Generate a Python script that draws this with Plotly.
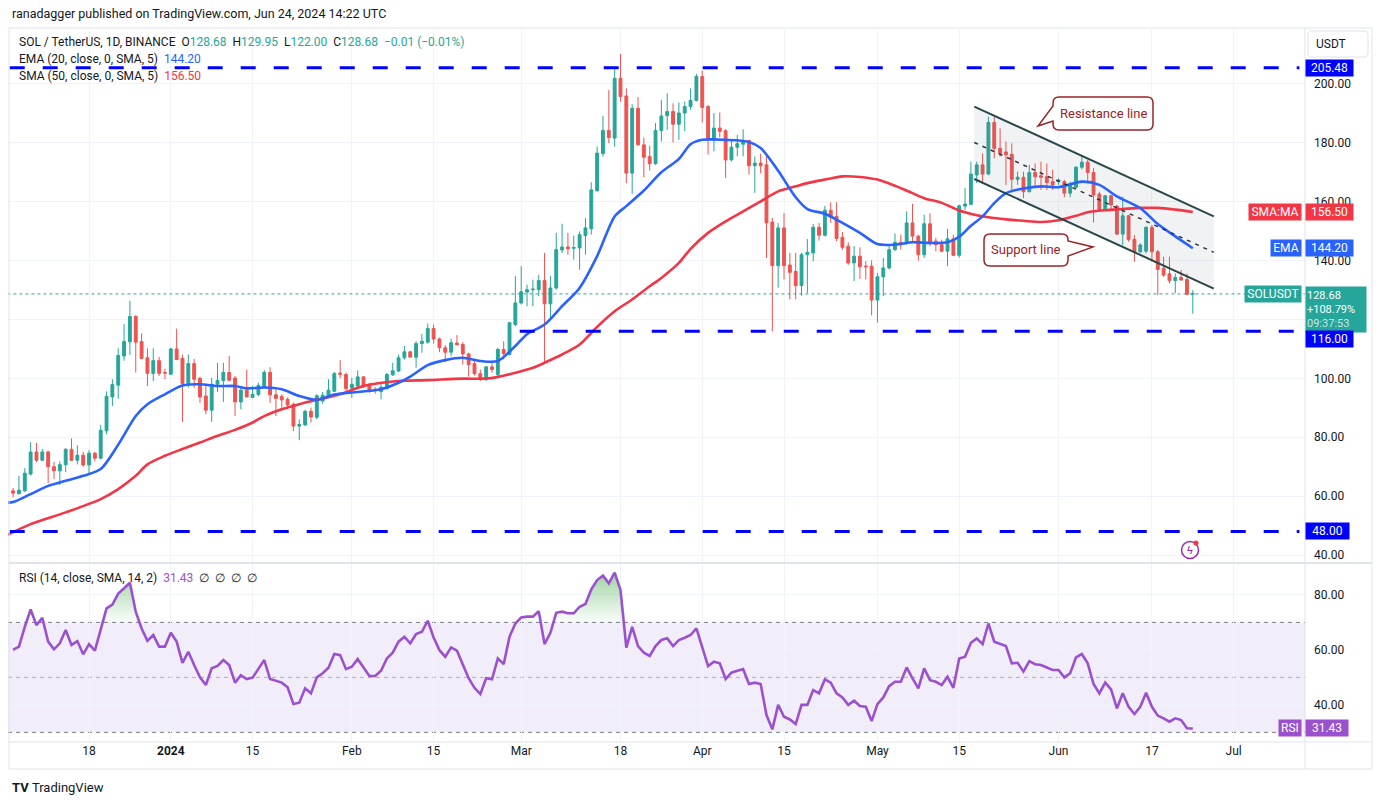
import pandas as pd
import plotly.graph_objects as go
from plotly.subplots import make_subplots

# plot area in page pixels (used for paper-coordinate decorations)
L_PX, R_PX, T_PX, B_PX = 8, 1305, 30, 742

first_day = "2023-12-05"

opens = [
    61.8, 60.9, 61.8, 67.5, 75.0, 72.2, 75.0, 70.0, 68.6, 70.7,
    75.9, 72.2, 73.9, 70.6, 74.6, 72.9, 82.2, 93.7, 97.7, 107.6,
    112.4, 121.0, 112.5, 107.0, 101.7, 106.0, 102.0, 101.4, 110.0, 106.8,
    98.3, 105.0, 100.0, 94.0, 89.2, 98.0, 99.3, 102.0, 100.1, 92.0,
    96.0, 93.5, 94.5, 97.0, 102.0, 94.4, 93.8, 92.9, 91.2, 83.8,
    84.2, 88.8, 86.8, 92.3, 94.0, 95.6, 101.8, 101.3, 96.7, 97.4,
    100.5, 97.6, 96.3, 95.5, 96.5, 101.2, 102.5, 107.0, 109.0, 107.2,
    111.8, 112.3, 116.9, 113.4, 110.4, 108.9, 112.0, 111.5, 108.3, 105.0,
    101.6, 99.9, 103.9, 101.3, 109.8, 108.1, 118.3, 125.6, 129.3, 130.1,
    130.1, 133.2, 125.3, 130.7, 143.6, 144.6, 144.2, 144.3, 148.5, 150.8,
    163.8, 176.3, 184.2, 181.6, 201.9, 195.9, 169.7, 191.7, 179.3, 175.3,
    172.9, 184.2, 189.2, 190.6, 186.3, 190.1, 192.3, 194.4, 202.5, 192.3,
    181.4, 185.0, 184.1, 174.2, 178.5, 179.5, 180.8, 172.2, 173.1, 172.5,
    153.1, 138.3, 151.1, 138.5, 136.3, 131.5, 142.0, 142.6, 151.3, 148.6,
    157.1, 155.0, 147.9, 144.9, 139.2, 141.5, 138.1, 138.1, 126.6, 134.5,
    137.5, 143.7, 146.2, 145.9, 152.8, 148.3, 142.0, 152.5, 146.6, 145.4,
    143.2, 147.4, 141.8, 158.5, 159.1, 169.1, 172.5, 169.4, 186.9, 178.1,
    176.9, 176.1, 167.6, 168.3, 163.4, 169.9, 168.8, 168.5, 166.8, 166.8,
    166.8, 162.9, 164.9, 171.7, 173.4, 169.9, 162.6, 157.4, 162.0, 158.5,
    149.0, 155.2, 147.2, 143.0, 143.2, 151.3, 143.0, 137.4, 135.5, 133.2,
    134.3, 133.6, 128.68,
]
highs = [
    62.7, 66.9, 69.5, 78.3, 78.1, 76.0, 75.5, 71.6, 71.8, 76.3,
    79.6, 77.3, 75.0, 75.6, 75.0, 84.2, 95.6, 99.7, 110.2, 118.4,
    126.4, 121.5, 115.3, 110.2, 110.2, 107.3, 103.3, 110.4, 116.9, 108.0,
    108.1, 106.6, 100.5, 97.4, 100.2, 105.3, 105.3, 107.6, 100.8, 97.4,
    103.0, 97.4, 98.5, 102.8, 103.8, 96.3, 94.6, 93.5, 91.8, 86.1,
    89.3, 90.1, 94.6, 95.4, 99.7, 102.2, 106.2, 102.0, 100.2, 102.7,
    100.8, 98.5, 97.0, 98.0, 101.9, 105.3, 108.1, 111.0, 109.3, 112.6,
    115.1, 118.6, 118.3, 113.8, 111.3, 113.5, 114.7, 112.3, 108.7, 106.4,
    103.0, 104.2, 105.9, 110.4, 112.6, 119.1, 134.7, 138.1, 131.8, 133.5,
    135.2, 142.6, 134.7, 149.4, 152.5, 149.4, 148.5, 149.9, 154.4, 166.6,
    178.7, 189.1, 197.9, 205.3, 210.2, 198.5, 193.1, 195.5, 181.8, 179.0,
    186.7, 194.6, 196.8, 193.4, 193.7, 194.0, 198.5, 203.4, 204.5, 192.8,
    190.1, 190.3, 184.6, 181.0, 182.7, 184.6, 181.0, 175.4, 176.3, 175.9,
    154.5, 152.8, 156.1, 142.6, 142.6, 142.6, 147.3, 152.4, 152.8, 158.6,
    159.8, 159.8, 149.7, 146.2, 144.9, 144.5, 139.8, 140.1, 135.8, 140.9,
    144.9, 149.2, 148.8, 156.7, 159.3, 148.8, 155.6, 156.0, 147.7, 147.1,
    150.8, 148.8, 159.0, 164.6, 173.6, 173.6, 176.4, 188.9, 188.9, 184.9,
    180.4, 179.8, 170.2, 170.2, 172.5, 173.0, 173.6, 173.0, 170.8, 167.9,
    167.4, 166.8, 172.1, 175.3, 174.2, 171.4, 163.4, 162.3, 162.3, 158.9,
    161.7, 155.5, 148.7, 145.9, 151.6, 152.1, 143.6, 141.3, 141.3, 135.6,
    136.8, 135.6, 129.95,
]
lows = [
    59.6, 60.5, 61.5, 67.0, 71.5, 72.0, 64.4, 65.8, 63.8, 68.2,
    71.9, 70.8, 70.0, 67.3, 71.9, 72.5, 81.0, 90.6, 93.1, 106.0,
    108.0, 102.0, 106.5, 97.4, 99.1, 100.8, 99.7, 101.2, 106.2, 85.2,
    96.8, 96.8, 91.7, 87.8, 85.2, 95.4, 92.0, 99.0, 87.2, 89.5,
    93.5, 93.4, 94.0, 97.0, 91.7, 87.2, 90.0, 89.5, 82.1, 79.0,
    83.8, 85.0, 86.1, 91.4, 93.8, 95.3, 100.0, 95.7, 93.4, 96.8,
    96.8, 95.1, 94.8, 92.9, 96.3, 100.8, 102.1, 106.4, 107.2, 103.6,
    108.7, 111.8, 111.8, 108.9, 105.5, 107.5, 111.2, 104.7, 100.6, 101.0,
    99.1, 99.1, 101.9, 100.8, 106.4, 107.8, 117.7, 125.1, 124.5, 124.5,
    127.9, 105.3, 120.0, 130.1, 142.6, 142.0, 140.3, 136.9, 142.0, 148.8,
    163.2, 175.3, 179.9, 178.7, 194.0, 166.3, 162.7, 179.0, 168.3, 170.6,
    172.5, 180.5, 184.4, 180.1, 181.0, 183.9, 191.2, 194.0, 186.9, 176.0,
    177.1, 181.9, 168.0, 173.7, 175.4, 175.4, 169.2, 163.0, 169.7, 140.9,
    116.0, 130.8, 133.6, 126.8, 126.8, 128.1, 129.0, 139.8, 146.8, 148.2,
    152.8, 146.6, 143.7, 138.6, 133.0, 133.8, 133.6, 121.4, 118.9, 127.9,
    137.0, 143.2, 143.7, 145.4, 146.6, 140.0, 140.9, 144.9, 143.2, 142.8,
    138.1, 141.5, 141.0, 157.2, 158.9, 166.3, 166.3, 169.0, 174.7, 175.3,
    165.7, 163.1, 165.7, 161.2, 163.1, 165.1, 164.0, 164.0, 164.0, 165.7,
    161.5, 161.5, 164.6, 171.0, 166.8, 152.9, 157.2, 157.2, 157.2, 148.7,
    145.3, 146.4, 139.6, 142.5, 142.5, 139.6, 128.3, 134.5, 132.2, 128.9,
    133.2, 128.1, 122.0,
]
closes = [
    61.0, 62.0, 67.8, 75.0, 72.2, 75.0, 70.0, 68.6, 70.7, 75.9,
    72.2, 73.9, 70.6, 74.6, 72.9, 82.4, 93.9, 97.9, 107.8, 112.5,
    121.0, 112.3, 106.8, 101.7, 106.0, 101.7, 101.8, 110.0, 106.4, 98.3,
    105.0, 99.7, 93.7, 89.2, 98.0, 99.3, 102.0, 99.4, 92.0, 96.0,
    93.7, 94.6, 97.6, 102.0, 94.4, 93.2, 92.7, 91.0, 83.8, 84.3,
    88.8, 86.9, 94.1, 94.3, 96.0, 101.6, 101.4, 96.5, 98.0, 100.5,
    97.4, 95.6, 96.0, 97.0, 101.3, 102.6, 107.0, 109.0, 107.2, 111.8,
    112.6, 116.9, 113.4, 110.4, 108.9, 112.1, 111.4, 108.3, 104.7, 101.6,
    99.9, 103.9, 103.0, 109.8, 108.4, 118.9, 125.6, 129.4, 130.1, 130.3,
    133.2, 125.3, 130.7, 143.7, 144.6, 144.0, 144.4, 148.8, 151.1, 164.0,
    176.5, 184.2, 181.8, 201.9, 195.7, 169.7, 191.7, 179.3, 175.1, 172.9,
    184.2, 189.1, 190.6, 186.3, 190.1, 192.3, 194.4, 202.5, 192.0, 181.4,
    185.0, 183.9, 174.2, 178.5, 179.7, 180.8, 172.2, 173.1, 172.2, 152.8,
    138.3, 151.1, 138.3, 136.0, 131.5, 142.0, 142.8, 151.3, 148.6, 157.1,
    154.7, 147.5, 144.5, 139.2, 141.5, 137.9, 137.9, 126.6, 134.5, 137.5,
    143.7, 146.2, 145.4, 152.8, 148.3, 142.0, 152.5, 146.0, 145.4, 143.2,
    147.4, 141.8, 158.6, 159.2, 169.4, 172.5, 169.4, 186.9, 178.1, 176.4,
    175.9, 167.6, 168.3, 163.4, 169.9, 168.5, 168.3, 166.5, 165.7, 167.4,
    162.9, 165.7, 171.7, 173.4, 169.9, 162.3, 157.4, 162.0, 158.9, 149.0,
    155.2, 147.2, 143.0, 145.3, 151.3, 143.0, 137.0, 135.1, 133.2, 134.3,
    133.4, 128.6, 128.68,
]

rsi_vals = [
    60.0, 61.2, 68.4, 74.7, 69.0, 71.7, 63.0, 60.2, 62.4, 67.2,
    61.8, 63.2, 58.4, 62.1, 59.7, 67.2, 75.1, 76.5, 80.5, 82.4,
    84.4, 73.9, 67.8, 63.3, 65.4, 61.2, 61.2, 66.2, 63.0, 55.3,
    59.3, 54.5, 50.0, 47.2, 53.3, 54.2, 56.3, 54.5, 48.1, 50.8,
    49.4, 49.9, 53.3, 56.3, 49.4, 48.8, 48.1, 46.4, 40.3, 40.8,
    46.0, 44.2, 50.0, 51.5, 53.5, 58.5, 58.1, 53.0, 53.9, 56.7,
    53.6, 50.5, 50.5, 52.4, 56.9, 59.0, 63.0, 64.8, 62.4, 65.8,
    66.6, 70.6, 64.5, 59.9, 57.5, 60.9, 59.7, 54.5, 49.7, 46.2,
    43.9, 49.7, 49.3, 56.9, 54.8, 64.8, 69.6, 71.8, 72.1, 72.1,
    74.1, 62.1, 66.2, 73.5, 73.9, 73.3, 73.3, 75.7, 76.7, 82.0,
    85.4, 87.0, 84.2, 88.1, 81.8, 60.8, 68.4, 61.4, 59.0, 57.8,
    61.4, 63.6, 64.2, 61.4, 63.6, 64.4, 65.4, 67.8, 61.2, 54.1,
    55.7, 55.1, 49.4, 51.7, 52.4, 53.0, 47.6, 48.1, 47.6, 36.3,
    31.1, 40.0, 35.7, 34.7, 33.0, 40.0, 40.0, 45.4, 44.2, 49.3,
    48.1, 44.2, 42.7, 40.0, 41.5, 39.6, 39.3, 34.1, 40.3, 42.7,
    46.8, 48.4, 48.4, 53.6, 49.6, 46.0, 53.3, 49.0, 48.4, 47.2,
    50.2, 46.2, 56.9, 57.5, 62.6, 64.2, 62.1, 69.6, 63.0, 62.1,
    61.4, 55.1, 55.3, 52.1, 55.9, 54.8, 54.5, 53.6, 52.7, 52.7,
    50.0, 51.5, 57.3, 58.5, 55.1, 47.6, 44.2, 48.1, 45.6, 38.7,
    44.2, 39.3, 36.7, 39.3, 44.4, 39.3, 36.1, 35.1, 33.9, 35.1,
    34.5, 31.5, 31.43,
]

# moving averages (day offset from first candle, value)
ema_day = [-1, 0, 3, 6, 9, 12, 15, 18, 21, 23, 26, 29, 32, 35, 38, 40, 43, 46, 49, 52,
           55, 58, 63, 66, 68, 71, 74, 77, 80, 83, 86, 88, 91, 94, 97, 100, 103, 105, 108, 111,
           114, 116, 118, 122, 126, 128, 131, 134, 136, 139, 142, 145, 148, 151, 154, 157, 160,
           162, 164, 166, 168, 170, 173, 176, 179, 183, 186, 189, 193, 196, 199, 202]
ema_val = [57.8, 58.0, 60.7, 63.5, 65.2, 66.9, 69.2, 77.5, 87.2, 91.2, 94.6, 97.6, 98.0, 97.4,
           97.4, 96.6, 96.9, 96.3, 94.0, 92.7, 94.5, 95.2, 96.3, 98.5, 100.6, 104.5, 106.2, 107.0,
           105.9, 105.9, 111.0, 115.0, 118.3, 124.5, 130.7, 141.5, 155.0, 158.5, 163.8, 170.0,
           174.5, 179.5, 181.0, 181.0, 180.3, 178.2, 170.5, 161.5, 157.5, 155.9, 152.8, 149.4,
           145.6, 145.4, 146.2, 146.0, 146.2, 148.1, 151.8, 155.0, 159.5, 162.9, 164.5, 165.2,
           164.9, 166.8, 165.7, 161.8, 157.8, 152.4, 148.2, 144.2]
sma_day = [-1, 3, 9, 15, 18, 21, 23, 26, 29, 32, 35, 38, 41, 43, 46, 49, 52, 56, 60, 66,
           71, 77, 81, 83, 86, 89, 91, 94, 97, 100, 103, 106, 109, 111, 114, 116, 119, 122, 125,
           128, 131, 134, 136, 139, 142, 145, 148, 151, 154, 156, 159, 162, 165, 167, 170, 173,
           176, 179, 182, 184, 187, 190, 193, 196, 199, 202]
sma_val = [46.8, 50.5, 54.5, 59.0, 62.4, 66.9, 70.8, 73.7, 76.0, 78.2, 80.5, 82.5, 85.0, 87.2,
           89.5, 91.2, 92.7, 94.6, 97.4, 99.1, 99.4, 99.9, 99.9, 100.5, 101.9, 103.6, 105.3,
           108.1, 111.5, 117.5, 122.8, 126.8, 131.3, 134.1, 139.2, 144.0, 149.4, 153.3, 156.7,
           160.1, 163.5, 165.2, 166.3, 167.5, 168.6, 168.4, 167.5, 165.4, 162.9, 161.2, 159.6,
           157.0, 155.4, 154.7, 154.0, 153.5, 153.1, 153.7, 155.2, 156.4, 157.1, 157.5, 157.9,
           157.9, 157.3, 156.5]

tick_dates = ["2023-12-18", "2024-01-01", "2024-01-15", "2024-02-01", "2024-02-15",
              "2024-03-01", "2024-03-18", "2024-04-01", "2024-04-15", "2024-05-01",
              "2024-05-15", "2024-06-01", "2024-06-17", "2024-07-01"]
tick_text = ["18", "<b>2024</b>", "15", "Feb", "15", "Mar", "18", "Apr", "15", "May",
             "15", "Jun", "17", "Jul"]

# 120.00 is hidden behind the last-price block on the original, only its grid line shows
price_ticks = [40, 60, 80, 100, 140, 160, 180, 200]
price_grid_only = [120]
rsi_ticks = [40, 60, 80]

level_vals = [205.48, 116.00, 48.00]
level_start = ["2023-12-04 10:00", "2024-02-29 18:00", "2023-12-04 10:00"]
level_end = "2024-07-12 06:00"

channel_x = ["2024-05-17 14:00", "2024-06-27 14:00"]
resistance = [192.3, 155.0]
support = [167.7, 130.5]
midline = [180.1, 142.8]

UP, DOWN = "#26a69a", "#ef5350"
EMA_C, SMA_C, RSI_C = "#2962ff", "#f23645", "#9b51cf"
LEVEL_C = "#0000ff"
TXT = "#131722"
GRID = "#f0f3fa"
FRAME = "#e0e3eb"
CALLOUT = "#9b2226"
FONT = "Roboto, Liberation Sans, sans-serif"

assert len(opens) == len(highs) == len(lows) == len(closes) == len(rsi_vals)

base = pd.Timestamp(first_day)
dates = pd.date_range(first_day, periods=len(closes), freq="D")
ema_x = [base + pd.Timedelta(days=d) for d in ema_day]
sma_x = [base + pd.Timedelta(days=d) for d in sma_day]


def pxx(x):
    return (x - L_PX) / (R_PX - L_PX)


def pxy(y):
    return (B_PX - y) / (B_PX - T_PX)


def P(x, y):
    return "%.5f,%.5f" % (pxx(x), pxy(y))


fig = make_subplots(rows=2, cols=1, shared_xaxes=True, vertical_spacing=0)

# channel band
fig.add_trace(go.Scatter(
    x=[channel_x[0], channel_x[1], channel_x[1], channel_x[0]],
    y=[resistance[0], resistance[1], support[1], support[0]],
    fill="toself", fillcolor="rgba(120,123,134,0.10)", mode="none", hoverinfo="skip"),
    row=1, col=1)

# last price dotted line (drawn under the candles)
fig.add_trace(go.Scatter(x=[dates[0] - pd.Timedelta(days=2), dates[-1] + pd.Timedelta(days=25)],
                         y=[closes[-1], closes[-1]], mode="lines",
                         line=dict(color=UP, width=1, dash="dot")), row=1, col=1)

fig.add_trace(go.Candlestick(
    x=dates, open=opens, high=highs, low=lows, close=closes,
    increasing=dict(line=dict(color=UP, width=1), fillcolor=UP),
    decreasing=dict(line=dict(color=DOWN, width=1), fillcolor=DOWN),
    whiskerwidth=0), row=1, col=1)

fig.add_trace(go.Scatter(x=sma_x, y=sma_val, mode="lines",
                         line=dict(color=SMA_C, width=2.6, shape="spline", smoothing=0.8)),
              row=1, col=1)
fig.add_trace(go.Scatter(x=ema_x, y=ema_val, mode="lines",
                         line=dict(color=EMA_C, width=2.6, shape="spline", smoothing=0.8)),
              row=1, col=1)

# channel lines
for vals in (resistance, support):
    fig.add_trace(go.Scatter(x=channel_x, y=vals, mode="lines",
                             line=dict(color="#27474a", width=2)), row=1, col=1)
fig.add_trace(go.Scatter(x=channel_x, y=midline, mode="lines",
                         line=dict(color="#2a2e39", width=1.4, dash="4px,5px")), row=1, col=1)

# RSI pane
fig.add_trace(go.Scatter(x=dates, y=[70] * len(dates), mode="lines",
                         line=dict(width=0), hoverinfo="skip"), row=2, col=1)
fig.add_trace(go.Scatter(
    x=dates, y=[max(v, 70) for v in rsi_vals], mode="lines", line=dict(width=0),
    fill="tonexty",
    fillgradient=dict(type="vertical", start=70, stop=90,
                      colorscale=[[0, "rgba(76,175,80,0.02)"], [1, "rgba(76,175,80,0.6)"]])),
    row=2, col=1)
fig.add_trace(go.Scatter(x=dates, y=rsi_vals, mode="lines",
                         line=dict(color=RSI_C, width=2.6)), row=2, col=1)

shapes = []
for v in price_grid_only:
    shapes.append(dict(type="line", xref="paper", yref="y", x0=0, x1=1, y0=v, y1=v,
                       line=dict(color=GRID, width=1), layer="below"))
# rsi band and guide lines
shapes.append(dict(type="rect", xref="paper", yref="y2", x0=0, x1=1, y0=30, y1=70,
                   fillcolor="rgba(126,87,194,0.10)", line=dict(width=0), layer="below"))
for lvl, col in ((70, "#787b86"), (50, "rgba(120,123,134,0.55)"), (30, "#787b86")):
    shapes.append(dict(type="line", xref="paper", yref="y2", x0=0, x1=1, y0=lvl, y1=lvl,
                       line=dict(color=col, width=1, dash="4px,4px"), layer="below"))

# horizontal levels
for v, s in zip(level_vals, level_start):
    shapes.append(dict(type="line", xref="x", yref="y", x0=s, x1=level_end, y0=v, y1=v,
                       line=dict(color=LEVEL_C, width=3, dash="15px,18px"), layer="above"))

# frame
frame_lines = [
    (9, 28, 1372, 28), (9, 769, 1372, 769), (9, 28, 9, 769), (1372, 28, 1372, 769),
    (1305, 28, 1305, 769), (9, 742, 1372, 742), (9, 563, 1372, 563),
]
for x0, y0, x1, y1 in frame_lines:
    shapes.append(dict(type="line", xref="paper", yref="paper",
                       x0=pxx(x0), y0=pxy(y0), x1=pxx(x1), y1=pxy(y1),
                       line=dict(color=FRAME, width=2 if y0 == 563 and y1 == 563 else 1)))

# callout bubbles
res_path = ("M " + P(1059, 97) + " L " + P(1147, 97) + " Q " + P(1153, 97) + " " + P(1153, 103) +
            " L " + P(1153, 124) + " Q " + P(1153, 130) + " " + P(1147, 130) +
            " L " + P(1059, 130) + " Q " + P(1053, 130) + " " + P(1053, 124) +
            " L " + P(1053, 121) + " L " + P(1038, 126) + " L " + P(1053, 106) +
            " L " + P(1053, 103) + " Q " + P(1053, 97) + " " + P(1059, 97) + " Z")
sup_path = ("M " + P(990, 234) + " L " + P(1062, 234) + " Q " + P(1068, 234) + " " + P(1068, 240) +
            " L " + P(1068, 241) + " L " + P(1093, 247) + " L " + P(1068, 256) +
            " L " + P(1068, 260) + " Q " + P(1068, 266) + " " + P(1062, 266) +
            " L " + P(990, 266) + " Q " + P(984, 266) + " " + P(984, 260) +
            " L " + P(984, 240) + " Q " + P(984, 234) + " " + P(990, 234) + " Z")
for pth in (res_path, sup_path):
    shapes.append(dict(type="path", xref="paper", yref="paper", path=pth,
                       fillcolor="white", line=dict(color=CALLOUT, width=1.5), layer="above"))

usdt_path = ("M " + P(1312, 31) + " L " + P(1364, 31) + " Q " + P(1368, 31) + " " + P(1368, 35) +
             " L " + P(1368, 53) + " Q " + P(1368, 57) + " " + P(1364, 57) +
             " L " + P(1312, 57) + " Q " + P(1308, 57) + " " + P(1308, 53) +
             " L " + P(1308, 35) + " Q " + P(1308, 31) + " " + P(1312, 31) + " Z")
shapes.append(dict(type="path", xref="paper", yref="paper", path=usdt_path,
                   fillcolor="white", line=dict(color=FRAME, width=1)))

# small alert icon
shapes.append(dict(type="circle", xref="paper", yref="paper",
                   x0=pxx(1181.5), x1=pxx(1198.5), y0=pxy(558.5), y1=pxy(541.5),
                   line=dict(color="#9c27b0", width=1.5), fillcolor="white"))
shapes.append(dict(type="circle", xref="paper", yref="paper",
                   x0=pxx(1193.5), x1=pxx(1198.5), y0=pxy(545.5), y1=pxy(540.5),
                   line=dict(width=0), fillcolor=SMA_C))

ann = []


def text_at(x, y, text, size=12, color=TXT, xanchor="left"):
    ann.append(dict(xref="paper", yref="paper", x=pxx(x), y=pxy(y), text=text,
                    showarrow=False, xanchor=xanchor, yanchor="middle",
                    font=dict(size=size, color=color, family=FONT)))


def tag(y, text, bg, yref="y", left=False, w=43, h=12, fcolor="white", yanchor="middle",
        yshift=0, align="center", size=12, pad=2):
    ann.append(dict(xref="paper", yref=yref, x=pxx(1302) if left else 1.0, y=y,
                    xanchor="right" if left else "left", yanchor=yanchor, yshift=yshift,
                    text=text, showarrow=False, bgcolor=bg, borderpad=pad, width=w, height=h,
                    align=align, font=dict(size=size, color=fcolor, family=FONT)))


nb = "\u00a0"
g = "<span style='color:%s'>%%s</span>" % UP
text_at(10, 14, "ranadagger published on TradingView.com, Jun 24, 2024 14:22 UTC", size=12.5)
text_at(17, 42, "SOL / TetherUS, 1D, BINANCE" + nb * 2 + "O" + g % "128.68" + nb * 2 + "H" +
        g % "129.95" + nb * 2 + "L" + g % "122.00" + nb * 2 + "C" + g % "128.68" + nb * 2 +
        g % "\u22120.01 (\u22120.01%)")
text_at(17, 59, "EMA (20, close, 0, SMA, 5)" + nb * 2 +
        "<span style='color:%s'>144.20</span>" % EMA_C)
text_at(17, 76, "SMA (50, close, 0, SMA, 5)" + nb * 2 +
        "<span style='color:%s'>156.50</span>" % SMA_C)
text_at(17, 578, "RSI (14, close, SMA, 14, 2)" + nb * 2 +
        "<span style='color:%s'>31.43</span>" % RSI_C + nb * 2 +
        (nb * 2).join(["\u2205"] * 4))
text_at(10, 787, "<b>TV</b>" + nb + "TradingView", size=13)
text_at(1103, 113.5, "Resistance line", size=13, color=CALLOUT, xanchor="center")
text_at(1026, 250, "Support line", size=13, color=CALLOUT, xanchor="center")
text_at(1331, 44, "USDT", size=12, xanchor="center")
text_at(1190, 550, "\u03df", size=11, color="#9c27b0", xanchor="center")

tag(level_vals[0], "205.48", LEVEL_C)
tag(level_vals[2], "48.00", LEVEL_C, w=39)
tag(sma_val[-1], "SMA:MA", SMA_C, left=True, w=48)
tag(sma_val[-1], "156.50", SMA_C)
tag(ema_val[-1], "EMA", EMA_C, left=True, w=26)
tag(ema_val[-1], "144.20", EMA_C)
tag(closes[-1], "SOLUSDT", UP, left=True, w=52)
tag(closes[-1], "128.68<br>+108.79%<br><span style='color:rgba(255,255,255,0.75)'>09:37:53</span>",
    UP, w=58, h=43, yanchor="top", yshift=8, align="left", size=11, pad=1)
# the 116 tag sits just under the last-price block, as on the original
tag(level_vals[1], "116.00", LEVEL_C, yshift=-8)
tag(rsi_vals[-1], "RSI", RSI_C, yref="y2", left=True, w=18)
tag(rsi_vals[-1], "31.43", RSI_C, yref="y2", w=38)

x_range = [pd.Timestamp("2023-12-04 03:00"), pd.Timestamp("2024-07-13 05:00")]
xcommon = dict(range=x_range, tickvals=tick_dates, ticktext=tick_text, showgrid=True,
               gridcolor=GRID, gridwidth=1, zeroline=False, showline=False, ticks="",
               tickfont=dict(size=12, color=TXT, family=FONT))

fig.update_layout(
    width=1382, height=805,
    margin=dict(l=L_PX, r=1382 - R_PX, t=T_PX, b=805 - B_PX),
    paper_bgcolor="white", plot_bgcolor="white",
    showlegend=False, hovermode=False,
    font=dict(family=FONT, color=TXT, size=12),
    xaxis=dict(xcommon, showticklabels=False, rangeslider=dict(visible=False)),
    xaxis2=dict(xcommon, showticklabels=True),
    yaxis=dict(domain=[0.2514, 1], range=[37.3, 218.3], side="right", tickvals=price_ticks,
               tickformat=".2f", showgrid=True, gridcolor=GRID, zeroline=False, ticks="",
               ticklabelstandoff=8, tickfont=dict(size=12, color=TXT, family=FONT)),
    yaxis2=dict(domain=[0, 0.2514], range=[26.5, 91.6], side="right", tickvals=rsi_ticks,
                tickformat=".2f", showgrid=True, gridcolor=GRID, zeroline=False, ticks="",
                ticklabelstandoff=8, tickfont=dict(size=12, color=TXT, family=FONT)),
    shapes=shapes,
    annotations=ann,
)

fig.write_html("out.html", config={"displayModeBar": False},
               post_script="document.body.style.margin='0';")
